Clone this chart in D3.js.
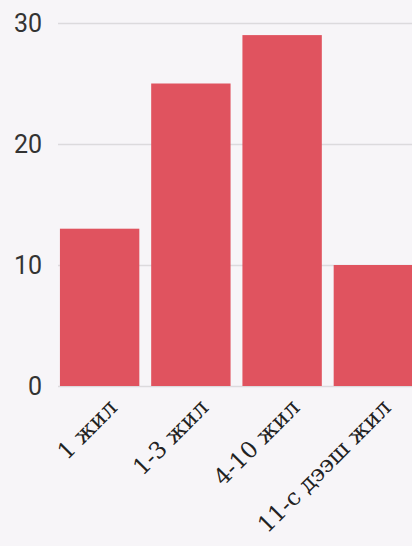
<!DOCTYPE html>
<html lang="mn">
	<head>
		<meta charset="utf-8">
		<title>Bar chart</title>
		<script type="text/javascript" src="https://cdn.jsdelivr.net/npm/d3@7"></script>
		<style type="text/css">
			body { margin: 0; background: #f7f5f8; }
		</style>
	</head>
	<body>
		<script type="text/javascript">

			var width = 412;
			var height = 546;

			// data
			var categories = ["1 жил", "1-3 жил", "4-10 жил", "11-с дээш жил"];
			var counts = [13, 25, 29, 10];
			var yTicks = [0, 10, 20, 30];

			var svg = d3.select("body")
						.append("svg")
						.attr("width", width)
						.attr("height", height)
						.style("display", "block");

			var xScale = d3.scaleBand()
					.domain(categories)
					.range([54, 419])
					.paddingInner(0.13)
					.paddingOuter(0.065);

			var yScale = d3.scaleLinear()
					.domain([0, 30])
					.range([386, 23]);

			// gridlines + y labels
			var yAxis = svg.append("g")
				.attr("transform", "translate(58,0)")
				.call(d3.axisLeft(yScale).tickValues(yTicks).tickSize(-(width - 58)).tickPadding(16));
			yAxis.select(".domain").remove();
			yAxis.selectAll(".tick line")
				.attr("stroke", "#dcdadd")
				.attr("stroke-width", 1.5);
			yAxis.selectAll(".tick text")
				.attr("fill", "#333")
				.style("font-family", "Roboto, sans-serif")
				.style("font-size", "25px");

			//bars
			svg.selectAll("rect.bar").data(categories).enter()
				.append("rect")
				.attr("class", "bar")
				.attr("x", function(d){ return xScale(d); })
				.attr("y", function(d, i){ return yScale(counts[i]); })
				.attr("width", xScale.bandwidth())
				.attr("height", function(d, i){ return yScale(0) - yScale(counts[i]); })
				.attr("fill", "#e0535f");

			// rotated category labels
			var xAxis = svg.append("g")
				.attr("transform", "translate(0," + yScale(0) + ")")
				.call(d3.axisBottom(xScale).tickSize(0).tickPadding(0));
			xAxis.select(".domain").remove();
			xAxis.selectAll(".tick text")
				.attr("fill", "#222")
				.attr("text-anchor", "end")
				.attr("transform", "translate(19,23) rotate(-45)")
				.attr("dy", "0")
				.style("font-family", "'DejaVu Serif', serif")
				.style("font-size", "23px");

		</script>
	</body>
</html>
